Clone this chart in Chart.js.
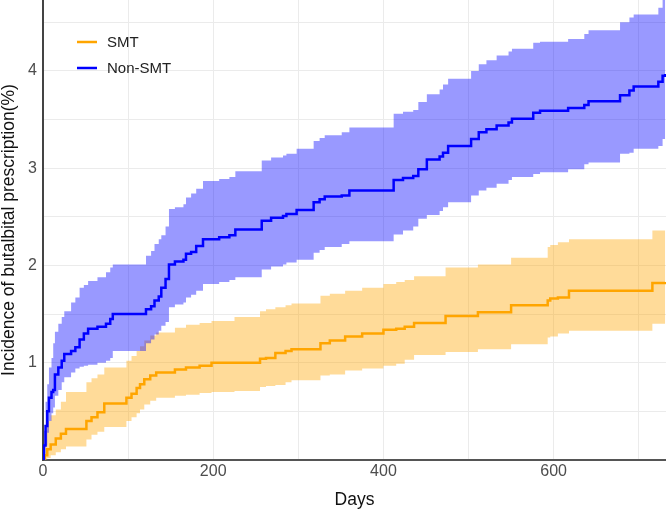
<!DOCTYPE html>
<html>
<head>
<meta charset="utf-8">
<script src="https://cdn.jsdelivr.net/npm/chart.js@4.4.1/dist/chart.umd.min.js"></script>
<style>
  html, body { margin: 0; padding: 0; background: #fff; }
</style>
</head>
<body>
<canvas id="chart" width="666" height="509"></canvas>
<script>
// cumulative incidence (%), step points: [day] -> value
var smtDays  = [0, 2, 5, 9, 15, 21, 27, 51, 57, 64, 72, 98, 104, 110, 114, 119, 126, 133, 155, 168, 184, 198, 225,
                255, 262, 273, 285, 292, 326, 337, 355, 375, 400, 415, 425, 436, 473, 511, 550, 593, 596, 605, 618, 716, 731];
var smtEst   = [0, 0.05, 0.11, 0.16, 0.22, 0.27, 0.32, 0.40, 0.44, 0.49, 0.58, 0.64, 0.68, 0.74, 0.78, 0.83, 0.87, 0.90, 0.93, 0.95, 0.97, 1.00, 1.00,
                1.04, 1.05, 1.10, 1.12, 1.14, 1.20, 1.23, 1.27, 1.30, 1.34, 1.35, 1.37, 1.41, 1.48, 1.52, 1.59, 1.64, 1.66, 1.67, 1.74, 1.82, 1.83];
var smtLow   = [0, 0, 0.02, 0.05, 0.08, 0.11, 0.14, 0.21, 0.26, 0.29, 0.34, 0.40, 0.44, 0.48, 0.52, 0.57, 0.61, 0.64, 0.66, 0.67, 0.69, 0.70, 0.71,
                0.75, 0.76, 0.77, 0.80, 0.82, 0.87, 0.88, 0.92, 0.94, 0.97, 0.99, 1.03, 1.08, 1.11, 1.14, 1.19, 1.26, 1.27, 1.30, 1.33, 1.40, 1.41];
var smtHigh  = [0, 0.30, 0.40, 0.46, 0.52, 0.60, 0.70, 0.80, 0.84, 0.88, 0.95, 1.02, 1.07, 1.12, 1.17, 1.23, 1.28, 1.31, 1.36, 1.39, 1.41, 1.43, 1.47,
                1.53, 1.55, 1.57, 1.59, 1.61, 1.69, 1.71, 1.74, 1.77, 1.81, 1.83, 1.85, 1.89, 1.98, 2.01, 2.08, 2.19, 2.21, 2.24, 2.27, 2.36, 2.37];

var nonDays  = [0, 1, 3, 5, 7, 10, 12, 14, 18, 22, 25, 33, 38, 43, 48, 53, 64, 74, 79, 82,
                121, 127, 131, 136, 139, 144, 148, 155, 165, 168, 174, 180, 188, 207, 219, 226, 257, 268, 282, 286,
                298, 318, 325, 331, 351, 360, 412, 423, 435, 441, 451, 466, 470, 476, 503, 512, 521, 533, 547, 551,
                576, 584, 617, 636, 641, 678, 689, 694, 723, 728, 731];
var nonEst   = [0, 0.15, 0.35, 0.50, 0.64, 0.70, 0.72, 0.88, 0.95, 1.02, 1.09, 1.12, 1.16, 1.24, 1.30, 1.35, 1.37, 1.40, 1.45, 1.50,
                1.55, 1.58, 1.64, 1.68, 1.77, 1.86, 2.01, 2.04, 2.06, 2.12, 2.14, 2.20, 2.27, 2.29, 2.31, 2.37, 2.46, 2.49, 2.51, 2.53,
                2.57, 2.65, 2.68, 2.71, 2.72, 2.77, 2.88, 2.90, 2.92, 2.99, 3.09, 3.12, 3.16, 3.23, 3.30, 3.37, 3.40, 3.44, 3.47, 3.51,
                3.57, 3.59, 3.62, 3.65, 3.69, 3.75, 3.80, 3.84, 3.89, 3.95, 3.97];
var nonLow   = [0, 0.05, 0.15, 0.28, 0.40, 0.48, 0.54, 0.66, 0.72, 0.80, 0.85, 0.90, 0.94, 0.96, 0.97, 0.98, 1.00, 1.02, 1.05, 1.12,
                1.20, 1.24, 1.29, 1.33, 1.38, 1.42, 1.57, 1.60, 1.62, 1.67, 1.70, 1.74, 1.81, 1.83, 1.85, 1.88, 1.96, 1.99, 2.01, 2.03,
                2.06, 2.13, 2.16, 2.19, 2.22, 2.25, 2.32, 2.36, 2.40, 2.48, 2.52, 2.56, 2.60, 2.65, 2.72, 2.77, 2.80, 2.84, 2.88, 2.91,
                2.94, 2.96, 2.99, 3.04, 3.06, 3.15, 3.16, 3.20, 3.23, 3.30, 3.33];
var nonHigh  = [0, 0.30, 0.60, 0.78, 0.95, 1.05, 1.20, 1.32, 1.40, 1.47, 1.53, 1.62, 1.67, 1.77, 1.80, 1.84, 1.88, 1.93, 1.98, 2.01,
                2.10, 2.15, 2.22, 2.27, 2.31, 2.40, 2.58, 2.60, 2.63, 2.70, 2.74, 2.79, 2.87, 2.89, 2.91, 2.97, 3.08, 3.11, 3.13, 3.15,
                3.20, 3.28, 3.31, 3.34, 3.37, 3.42, 3.56, 3.58, 3.60, 3.68, 3.76, 3.81, 3.86, 3.92, 4.00, 4.07, 4.11, 4.16, 4.20, 4.23,
                4.29, 4.30, 4.33, 4.38, 4.42, 4.50, 4.55, 4.58, 4.65, 4.75, 4.78];

var xTicks = [0, 200, 400, 600];
var yTicks = [1, 2, 3, 4];

var FONT = "'Liberation Sans', Arial, Helvetica, sans-serif";

function pts(days, vals) {
  return days.map(function(d, i) { return {x: d, y: vals[i]}; });
}

// legend drawn inside the plot, top left, like the original
var insetLegend = {
  id: 'insetLegend',
  afterDraw: function(chart) {
    var ctx = chart.ctx;
    var items = chart.data.datasets.filter(function(d) { return d.legendRow !== undefined; });
    ctx.save();
    items.forEach(function(d) {
      var y = 42 + d.legendRow * 26;
      ctx.strokeStyle = d.borderColor;
      ctx.lineWidth = 2.5;
      ctx.beginPath();
      ctx.moveTo(77, y);
      ctx.lineTo(97, y);
      ctx.stroke();
      ctx.fillStyle = '#222';
      ctx.font = '15px ' + FONT;
      ctx.textBaseline = 'middle';
      ctx.textAlign = 'left';
      ctx.fillText(d.label, 107, y + 1);
    });
    ctx.restore();
  }
};

// no extra room for half tick labels at the ends
function noPad(s) {
  s.paddingTop = 0;
  s.paddingBottom = 0;
  s.paddingLeft = 0;
  s.paddingRight = 0;
}

var ctx = document.getElementById('chart').getContext('2d');
new Chart(ctx, {
  type: 'line',
  data: {
    datasets: [
      { label: 'Non-SMT', legendRow: 1, data: pts(nonDays, nonEst), borderColor: '#0000ff', borderWidth: 2.5, fill: false },
      { label: 'SMT', legendRow: 0, data: pts(smtDays, smtEst), borderColor: '#ffa500', borderWidth: 2.5, fill: false },
      { label: 'nonHigh', data: pts(nonDays, nonHigh), borderWidth: 0, borderColor: 'rgba(0,0,0,0)', backgroundColor: 'rgba(0,0,255,0.4)', fill: '+1' },
      { label: 'nonLow', data: pts(nonDays, nonLow), borderWidth: 0, borderColor: 'rgba(0,0,0,0)', fill: false },
      { label: 'smtHigh', data: pts(smtDays, smtHigh), borderWidth: 0, borderColor: 'rgba(0,0,0,0)', backgroundColor: 'rgba(255,165,0,0.4)', fill: '+1' },
      { label: 'smtLow', data: pts(smtDays, smtLow), borderWidth: 0, borderColor: 'rgba(0,0,0,0)', fill: false }
    ]
  },
  options: {
    responsive: false,
    animation: false,
    layout: { padding: 0 },
    datasets: { line: { stepped: true, pointRadius: 0, tension: 0 } },
    plugins: {
      legend: { display: false },
      tooltip: { enabled: false }
    },
    scales: {
      x: {
        type: 'linear',
        min: 0,
        max: 732,
        border: { display: true, color: '#555', width: 2 },
        grid: { color: '#ebebeb', drawTicks: false },
        ticks: {
          stepSize: 100, includeBounds: false, autoSkip: false, maxRotation: 0, padding: 2,
          color: '#4d4d4d', font: { family: FONT, size: 16 },
          callback: function(v) { return xTicks.indexOf(v) >= 0 ? String(v) : ''; }
        },
        title: { display: true, text: 'Days', color: '#111', font: { family: FONT, size: 17.5, lineHeight: 1 }, padding: { top: 2, bottom: 0 } },
        afterFit: function(s) { s.height = 49; noPad(s); }
      },
      y: {
        type: 'linear',
        min: 0,
        max: 4.73,
        border: { display: true, color: '#444', width: 2 },
        grid: { color: '#ebebeb', drawTicks: false },
        ticks: {
          stepSize: 0.5, includeBounds: false, padding: 6,
          color: '#4d4d4d', font: { family: FONT, size: 16 },
          callback: function(v) { return yTicks.indexOf(v) >= 0 ? String(v) : ''; }
        },
        title: { display: true, text: 'Incidence of butalbital prescription(%)', color: '#111', font: { family: FONT, size: 17.5, lineHeight: 1 }, padding: 0 },
        afterFit: function(s) { s.width = 43; noPad(s); }
      }
    }
  },
  plugins: [insetLegend]
});
</script>
</body>
</html>
